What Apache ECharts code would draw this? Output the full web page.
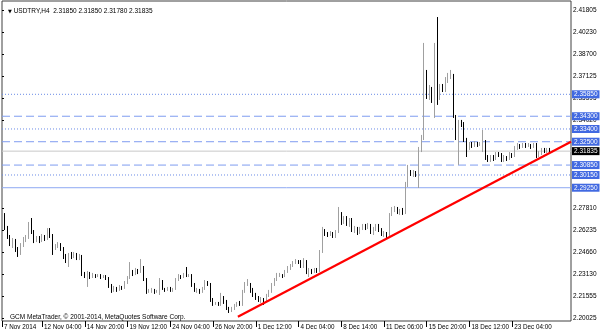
<!DOCTYPE html>
<html><head><meta charset="utf-8">
<script src="https://cdn.jsdelivr.net/npm/echarts@6/dist/echarts.min.js"></script>
<style>html,body{margin:0;padding:0;background:#fff}#c{width:600px;height:333px}</style>
</head><body><div id="c"></div><script>
const symbolName = 'USDTRY,H4';
const lastQuote = ['2.31850', '2.31850', '2.31780', '2.31835'];
const copyright = 'GCM MetaTrader, © 2001-2014, MetaQuotes Software Corp.';

const opens = [2.2662,2.2739,2.2640,2.2577,2.2534,2.2556,2.2485,2.2464,2.2520,2.2556,
2.2570,2.2655,2.2612,2.2556,2.2570,2.2549,2.2577,2.2563,2.2626,2.2584,
2.2499,2.2513,2.2527,2.2492,2.2443,2.2407,2.2457,2.2436,2.2450,2.2428,
2.2443,2.2315,2.2301,2.2323,2.2294,2.2308,2.2301,2.2308,2.2294,2.2301,
2.2287,2.2231,2.2196,2.2217,2.2203,2.2224,2.2217,2.2252,2.2287,2.2330,
2.2315,2.2337,2.2330,2.2358,2.2273,2.2189,2.2196,2.2203,2.2189,2.2196,
2.2259,2.2210,2.2203,2.2217,2.2196,2.2210,2.2273,2.2301,2.2294,2.2308,
2.2301,2.2308,2.2238,2.2196,2.2203,2.2189,2.2210,2.2259,2.2245,2.2132,
2.2104,2.2111,2.2097,2.2146,2.2118,2.2075,2.2054,2.2068,2.2090,2.2104,
2.2097,2.2189,2.2238,2.2245,2.2203,2.2167,2.2146,2.2132,2.2139,2.2125,
2.2160,2.2189,2.2238,2.2273,2.2301,2.2308,2.2301,2.2330,2.2358,2.2372,
2.2393,2.2407,2.2400,2.2372,2.2400,2.2330,2.2344,2.2330,2.2344,2.2337,
2.2471,2.2626,2.2598,2.2591,2.2605,2.2584,2.2612,2.2739,2.2683,2.2711,
2.2669,2.2697,2.2626,2.2640,2.2612,2.2633,2.2655,2.2640,2.2662,2.2612,
2.2633,2.2655,2.2626,2.2598,2.2605,2.2584,2.2733,2.2768,2.2782,2.2753,
2.2768,2.2746,2.2944,2.3036,2.3022,2.3036,2.3015,2.3192,2.3277,2.3722,
2.3566,2.3616,2.3559,2.3686,2.3580,2.3637,2.3616,2.3686,2.3714,2.3722,
2.3425,2.3284,2.3389,2.3368,2.3262,2.3213,2.3234,2.3220,2.3241,2.3227,
2.3234,2.3248,2.3135,2.3121,2.3142,2.3128,2.3163,2.3156,2.3121,2.3142,
2.3128,2.3163,2.3149,2.3206,2.3227,2.3213,2.3234,2.3220,2.3227,2.3213,
2.3227,2.3149,2.3163,2.3192,2.3177,2.3199,2.3185];

const closes = [2.2739,2.2640,2.2577,2.2534,2.2556,2.2485,2.2464,2.2520,2.2556,2.2570,
2.2655,2.2612,2.2556,2.2570,2.2549,2.2577,2.2563,2.2626,2.2584,2.2499,
2.2513,2.2527,2.2492,2.2443,2.2407,2.2457,2.2436,2.2450,2.2428,2.2443,
2.2315,2.2301,2.2323,2.2294,2.2308,2.2301,2.2308,2.2294,2.2301,2.2287,
2.2231,2.2196,2.2217,2.2203,2.2224,2.2217,2.2252,2.2287,2.2330,2.2315,
2.2337,2.2330,2.2358,2.2273,2.2189,2.2196,2.2203,2.2189,2.2196,2.2259,
2.2210,2.2203,2.2217,2.2196,2.2210,2.2273,2.2301,2.2294,2.2308,2.2301,
2.2308,2.2238,2.2196,2.2203,2.2189,2.2210,2.2259,2.2245,2.2132,2.2104,
2.2111,2.2097,2.2146,2.2118,2.2075,2.2054,2.2068,2.2090,2.2104,2.2097,
2.2189,2.2238,2.2245,2.2203,2.2167,2.2146,2.2132,2.2139,2.2125,2.2160,
2.2189,2.2238,2.2273,2.2301,2.2308,2.2301,2.2330,2.2358,2.2372,2.2393,
2.2407,2.2400,2.2372,2.2400,2.2330,2.2344,2.2330,2.2344,2.2337,2.2471,
2.2626,2.2598,2.2591,2.2605,2.2584,2.2612,2.2739,2.2683,2.2711,2.2669,
2.2697,2.2626,2.2640,2.2612,2.2633,2.2655,2.2640,2.2662,2.2612,2.2633,
2.2655,2.2626,2.2598,2.2605,2.2584,2.2733,2.2768,2.2782,2.2753,2.2768,
2.2746,2.2944,2.3036,2.3022,2.3036,2.3015,2.3192,2.3277,2.3722,2.3566,
2.3616,2.3559,2.3686,2.3580,2.3637,2.3616,2.3686,2.3714,2.3722,2.3425,
2.3284,2.3389,2.3368,2.3262,2.3213,2.3234,2.3220,2.3241,2.3227,2.3234,
2.3248,2.3135,2.3121,2.3142,2.3128,2.3163,2.3156,2.3121,2.3142,2.3128,
2.3163,2.3149,2.3206,2.3227,2.3213,2.3234,2.3220,2.3227,2.3213,2.3227,
2.3149,2.3163,2.3192,2.3177,2.3199,2.3184,2.31835];

const lows = [2.2640,2.2626,2.2563,2.2513,2.2499,2.2471,2.2436,2.2450,2.2506,2.2541,
2.2563,2.2598,2.2534,2.2541,2.2534,2.2541,2.2549,2.2556,2.2570,2.2450,
2.2485,2.2499,2.2478,2.2421,2.2393,2.2365,2.2421,2.2428,2.2414,2.2414,
2.2301,2.2287,2.2224,2.2280,2.2287,2.2287,2.2294,2.2280,2.2287,2.2273,
2.2217,2.2182,2.2189,2.2189,2.2196,2.2203,2.2210,2.2245,2.2280,2.2301,
2.2308,2.2315,2.2323,2.2266,2.2175,2.2182,2.2182,2.2175,2.2182,2.2167,
2.2203,2.2189,2.2196,2.2189,2.2189,2.2203,2.2266,2.2280,2.2287,2.2294,
2.2294,2.2224,2.2189,2.2182,2.2175,2.2182,2.2203,2.2231,2.2118,2.2090,
2.2097,2.2090,2.2090,2.2104,2.2061,2.2040,2.2047,2.2061,2.2083,2.2090,
2.2090,2.2182,2.2231,2.2182,2.2153,2.2132,2.2118,2.2111,2.2097,2.2118,
2.2153,2.2182,2.2231,2.2266,2.2294,2.2287,2.2294,2.2323,2.2344,2.2365,
2.2386,2.2386,2.2358,2.2358,2.2315,2.2294,2.2315,2.2323,2.2323,2.2330,
2.2464,2.2584,2.2577,2.2584,2.2570,2.2570,2.2605,2.2662,2.2669,2.2655,
2.2648,2.2612,2.2605,2.2591,2.2598,2.2626,2.2626,2.2633,2.2598,2.2591,
2.2619,2.2612,2.2584,2.2577,2.2570,2.2577,2.2725,2.2753,2.2739,2.2733,
2.2733,2.2739,2.2930,2.3008,2.3001,2.3001,2.2923,2.3177,2.3262,2.3552,
2.3545,2.3524,2.3418,2.3510,2.3545,2.3601,2.3601,2.3665,2.3693,2.3418,
2.3262,2.3086,2.3354,2.3248,2.3142,2.3192,2.3206,2.3213,2.3213,2.3220,
2.3177,2.3121,2.3107,2.3107,2.3114,2.3121,2.3142,2.3107,2.3107,2.3114,
2.3121,2.3135,2.3142,2.3192,2.3199,2.3206,2.3206,2.3213,2.3199,2.3206,
2.3135,2.3142,2.3156,2.3170,2.3170,2.3177,2.3178];

const highs = [2.2761,2.2746,2.2655,2.2591,2.2570,2.2563,2.2506,2.2534,2.2577,2.2591,
2.2683,2.2711,2.2626,2.2584,2.2584,2.2598,2.2591,2.2640,2.2640,2.2598,
2.2527,2.2541,2.2534,2.2506,2.2457,2.2464,2.2471,2.2471,2.2464,2.2457,
2.2450,2.2330,2.2337,2.2330,2.2323,2.2315,2.2315,2.2315,2.2308,2.2308,
2.2294,2.2245,2.2231,2.2224,2.2238,2.2231,2.2266,2.2301,2.2400,2.2344,
2.2358,2.2351,2.2421,2.2372,2.2287,2.2210,2.2217,2.2210,2.2203,2.2287,
2.2273,2.2217,2.2224,2.2224,2.2217,2.2287,2.2315,2.2308,2.2323,2.2365,
2.2315,2.2315,2.2252,2.2217,2.2210,2.2224,2.2273,2.2266,2.2252,2.2146,
2.2118,2.2118,2.2182,2.2160,2.2132,2.2083,2.2083,2.2104,2.2118,2.2125,
2.2203,2.2259,2.2280,2.2252,2.2217,2.2182,2.2160,2.2153,2.2146,2.2175,
2.2203,2.2252,2.2287,2.2323,2.2323,2.2315,2.2344,2.2372,2.2386,2.2407,
2.2421,2.2414,2.2414,2.2428,2.2414,2.2358,2.2351,2.2358,2.2358,2.2485,
2.2648,2.2633,2.2612,2.2619,2.2612,2.2626,2.2789,2.2753,2.2725,2.2725,
2.2711,2.2711,2.2655,2.2648,2.2648,2.2669,2.2669,2.2676,2.2669,2.2648,
2.2669,2.2669,2.2640,2.2619,2.2612,2.2746,2.2789,2.2796,2.2789,2.2775,
2.2782,2.2966,2.3086,2.3050,2.3050,2.3043,2.3213,2.3298,2.3948,2.3757,
2.3651,2.3637,2.3948,2.4131,2.3658,2.3658,2.3707,2.3736,2.3757,2.3729,
2.3439,2.3404,2.3404,2.3389,2.3277,2.3248,2.3248,2.3255,2.3248,2.3248,
2.3333,2.3262,2.3156,2.3156,2.3156,2.3177,2.3177,2.3170,2.3156,2.3149,
2.3177,2.3170,2.3220,2.3241,2.3234,2.3241,2.3241,2.3241,2.3234,2.3241,
2.3241,2.3184,2.3206,2.3206,2.3206,2.3206,2.3185];

const slotCount = 214;
const tickLabels = ['7 Nov 2014','12 Nov 04:00','14 Nov 20:00','19 Nov 12:00','24 Nov 04:00','26 Nov 20:00',
  '1 Dec 12:00','4 Dec 04:00','8 Dec 14:00','11 Dec 06:00','15 Dec 20:00','18 Dec 12:00','23 Dec 04:00'];
const firstTickBar = 15, tickStep = 16;
const priceTicks = [2.20025,2.21555,2.23130,2.24660,2.26235,2.27810,2.34020,2.35595,2.37125,2.38700,2.40230,2.41805];
const levelValues = [2.35850, 2.34300, 2.33400, 2.32500, 2.30850, 2.30150, 2.29250];
const levelStyles = ['dotted', 'dashed', 'dotted', 'dashed', 'dashed', 'dotted', 'solid'];
const currentPrice = 2.31835;
const trendStart = [88.3, 2.2014];
const trendEnd = [213, 2.3250];

const FONT = 'Liberation Sans';
const candles = opens.map((o, i) => [o, closes[i], lows[i], highs[i]]);
const categories = Array.from({length: slotCount}, (_, i) => String(i));
function isTick(i) { return i === 0 || (i >= firstTickBar && (i - firstTickBar) % tickStep === 0 && (i - firstTickBar) / tickStep + 1 < tickLabels.length); }
function tickText(i) { return i === 0 ? tickLabels[0] : tickLabels[(i - firstTickBar) / tickStep + 1]; }

const dashFor = { dotted: [1, 2], dashed: [8, 4], solid: 'solid' };
const colorFor = { dotted: '#6a8be6', dashed: '#7f9cf0', solid: '#8ea8f2' };
function levelSeries(v, type, color, bg) {
  return {
    type: 'line', xAxisIndex: 1, data: [[0, v], [slotCount - 1, v]], symbol: 'none', silent: true, z: 1,
    animation: false, clip: false,
    lineStyle: { type: type, color: color, width: 1 },
    endLabel: { show: true, formatter: () => v.toFixed(5), distance: 1, color: '#fff', backgroundColor: bg,
      padding: [1, 2, 0, 2], fontSize: 6.5, fontFamily: FONT, lineHeight: 7, align: 'left', verticalAlign: 'middle' }
  };
}
const levelSeriesList = levelValues.map((v, k) =>
  levelSeries(v, dashFor[levelStyles[k]], colorFor[levelStyles[k]], '#4169e1'));
levelSeriesList.push(levelSeries(currentPrice, 'solid', '#c8c8c8', '#000'));

const chart = echarts.init(document.getElementById('c'), null, { renderer: 'canvas' });
chart.setOption({
  animation: false,
  backgroundColor: '#fff',
  title: [
    { text: '{a|▼} ' + symbolName + '  ' + lastQuote.join(' '), left: 3, top: 3,
      textStyle: { fontSize: 6.5, fontFamily: FONT, color: '#000', fontWeight: 'normal',
        rich: { a: { fontSize: 5, fontFamily: 'DejaVu Sans', color: '#000' } } } },
    { text: copyright, left: 5, top: 309,
      textStyle: { fontSize: 6.5, fontFamily: FONT, color: '#000', fontWeight: 'normal' } }
  ],
  grid: { left: 2, right: 29, top: 1, bottom: 12, show: true, borderColor: '#404040', borderWidth: 1,
    backgroundColor: '#fff', outerBoundsMode: 'none', containLabel: false },
  xAxis: [
    { type: 'category', data: categories, boundaryGap: false,
      axisLine: { show: false },
      axisTick: { show: true, interval: (i) => isTick(i), length: 6, lineStyle: { color: '#000' } },
      axisLabel: { interval: (i) => isTick(i), formatter: (v, i) => tickText(i), align: 'left', margin: 3,
        padding: [0, 0, 0, 2], hideOverlap: false, showMinLabel: true,
        fontSize: 6.3, fontFamily: FONT, color: '#000' },
      splitLine: { show: false } },
    { type: 'value', min: 0, max: slotCount - 1, show: false }
  ],
  yAxis: {
    type: 'value', position: 'right', min: 2.19834, max: 2.42442, scale: true,
    axisLine: { show: false }, splitLine: { show: false },
    axisTick: { show: true, customValues: priceTicks, length: 2, lineStyle: { color: '#000' } },
    axisLabel: { customValues: priceTicks, formatter: (v) => v.toFixed(5), margin: 2, hideOverlap: false,
      fontSize: 6.5, fontFamily: FONT, color: '#000' }
  },
  series: levelSeriesList.concat([
    { type: 'candlestick', data: candles, xAxisIndex: 0, z: 3, barWidth: 1,
      itemStyle: { color: '#a0a0a0', color0: '#000', borderColor: '#a0a0a0', borderColor0: '#000', borderWidth: 1 } },
    { type: 'line', xAxisIndex: 1, data: [trendStart, trendEnd], symbol: 'none', z: 5, silent: true,
      lineStyle: { color: '#ff0000', width: 2.2 } }
  ])
});
</script></body></html>
